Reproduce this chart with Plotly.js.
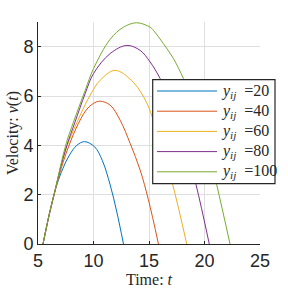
<!DOCTYPE html>
<html>
<head>
<meta charset="utf-8">
<script src="https://cdn.plot.ly/plotly-3.0.1.min.js"></script>
<style>html,body{margin:0;padding:0;background:#fff;}#chart{width:288px;height:288px;}</style>
</head>
<body>
<div id="chart"></div>
<script>
// ---- data ----
const seriesLabels = [20, 40, 60, 80, 100];
const seriesColors = ['#0072BD', '#D95319', '#EDB120', '#7E2F8E', '#77AC30'];

const time20 = [5.45, 6.04, 6.65, 7.25, 7.84, 8.5, 9.19, 10.1, 10.8, 11.5, 12.1, 12.7];
const vel20  = [0, 1.25, 2.33, 3.07, 3.61, 4.0, 4.15, 3.94, 3.38, 2.4, 1.3, 0];

const time40 = [5.45, 6.04, 6.65, 7.25, 7.84, 8.44, 9.34, 10.0, 10.6, 11.5, 12.4, 13.3, 14.2, 14.95, 15.85];
const vel40  = [0, 1.25, 2.35, 3.3, 4.05, 4.7, 5.43, 5.7, 5.79, 5.63, 5.02, 4.08, 3.0, 1.79, 0];

const time60 = [5.45, 6.04, 6.5, 7.0, 7.6, 8.8, 9.7, 10.6, 11.95, 13.6, 14.8, 15.25, 16.2, 17.14, 18.4];
const vel60  = [0, 1.25, 2.1, 3.0, 3.95, 5.22, 6.03, 6.64, 7.04, 6.55, 5.72, 5.2, 3.85, 2.4, 0];

const time80 = [5.45, 6.04, 6.5, 7.0, 7.6, 8.3, 9.25, 10.0, 11.5, 13.0, 14.2, 15.1, 16.0, 17.0, 18.1, 19.24, 20.43];
const vel80  = [0, 1.25, 2.1, 3.05, 4.0, 4.9, 6.1, 6.91, 7.72, 8.05, 7.85, 7.38, 6.71, 5.7, 4.3, 2.4, 0];

const time100 = [5.45, 6.04, 6.5, 7.0, 7.54, 8.2, 9.25, 10.0, 11.5, 12.7, 13.9, 15.1, 15.4, 16.3, 17.2, 18.1, 19.0, 20.1, 21.1, 22.3];
const vel100  = [0, 1.25, 2.1, 3.1, 4.08, 4.95, 6.23, 7.11, 8.3, 8.79, 8.97, 8.79, 8.66, 8.12, 7.52, 6.71, 5.75, 4.25, 2.4, 0];

const xTickVals = [5, 10, 15, 20, 25];
const yTickVals = [0, 2, 4, 6, 8];
const xRange = [5, 25];
const yRange = [0, 9];

// ---- build ----
const times = [time20, time40, time60, time80, time100];
const vels = [vel20, vel40, vel60, vel80, vel100];

const traces = seriesLabels.map((lab, i) => ({
  type: 'scatter', mode: 'lines',
  x: times[i], y: vels[i],
  name: 'y_ij =' + lab,
  line: {color: seriesColors[i], width: 1, shape: 'spline', smoothing: 1},
  showlegend: false, hoverinfo: 'skip'
}));

const W = 288, H = 288;
const M = {l: 38, r: 28, t: 22, b: 44};
const pw = W - M.l - M.r, ph = H - M.t - M.b;
const px2x = p => (p - M.l) / pw;
const py2y = p => (H - M.b - p) / ph;

const textColor = '#262626';
const serif = 'Liberation Serif, DejaVu Serif, serif';
const sans = 'Liberation Sans, Arial, sans-serif';

// manual legend (box, sample lines, labels)
const shapes = [{
  type: 'rect', xref: 'paper', yref: 'paper', layer: 'above',
  x0: px2x(152.7), x1: px2x(275), y0: py2y(183.7), y1: py2y(79.7),
  line: {color: textColor, width: 1.2}, fillcolor: '#ffffff'
}];
const annotations = [];
seriesLabels.forEach((lab, i) => {
  const rowY = py2y(91 + 20.2 * i);
  shapes.push({
    type: 'line', xref: 'paper', yref: 'paper', layer: 'above',
    x0: px2x(157), x1: px2x(217), y0: rowY, y1: rowY,
    line: {color: seriesColors[i], width: 1}
  });
  annotations.push({
    xref: 'paper', yref: 'paper', x: px2x(219), y: rowY,
    xanchor: 'left', yanchor: 'middle', showarrow: false,
    text: '<i>y</i><sub><i>ij</i></sub>&nbsp; =' + lab,
    font: {family: serif, size: 16, color: textColor}
  });
});

const axisCommon = {
  showline: true, linecolor: textColor, linewidth: 1,
  showgrid: true, gridcolor: '#dfdfdf', gridwidth: 1,
  zeroline: false, ticks: 'inside', ticklen: 3, tickcolor: textColor,
  tickfont: {family: sans, size: 18, color: textColor},
  fixedrange: true
};

const layout = {
  width: W, height: H, margin: M,
  paper_bgcolor: '#ffffff', plot_bgcolor: '#ffffff',
  showlegend: false,
  xaxis: Object.assign({}, axisCommon, {
    range: xRange, tickvals: xTickVals, ticktext: xTickVals.map(String),
    title: {text: 'Time: <i>t</i>', font: {family: serif, size: 16, color: textColor}, standoff: 0}
  }),
  yaxis: Object.assign({}, axisCommon, {
    range: yRange, tickvals: yTickVals, ticktext: yTickVals.map(String),
    title: {text: 'Velocity: <i>v</i>(<i>t</i>)', font: {family: serif, size: 16, color: textColor}, standoff: 0}
  }),
  shapes: shapes,
  annotations: annotations
};

Plotly.newPlot('chart', traces, layout, {displayModeBar: false, staticPlot: true});
</script>
</body>
</html>
